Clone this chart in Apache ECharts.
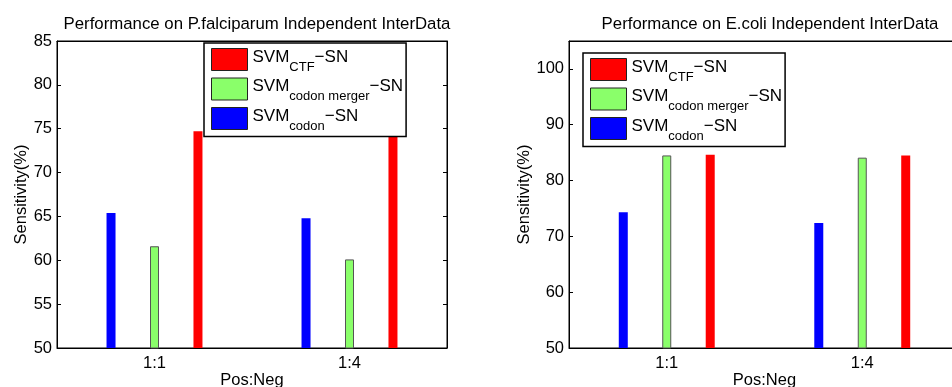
<!DOCTYPE html>
<html>
<head>
<meta charset="utf-8">
<script src="https://cdn.jsdelivr.net/npm/echarts@6/dist/echarts.min.js"></script>
<style>
html, body { margin: 0; padding: 0; background: #fff; }
#chart { width: 952px; height: 387px; }
</style>
</head>
<body>
<div id="chart"></div>
<script>
// data
var ratios = ['1:1', '1:4'];
var seriesNames = ['SVM_codon-SN', 'SVM_codon merger-SN', 'SVM_CTF-SN'];
var legendOrder = ['SVM_CTF-SN', 'SVM_codon merger-SN', 'SVM_codon-SN'];
var colors = ['#0000ff', '#8aff6a', '#ff0000'];

var pfCodon = [65.4, 64.8];
var pfMerger = [61.6, 60.1];
var pfCTF = [74.7, 76.0];

var ecCodon = [74.3, 72.4];
var ecMerger = [84.5, 84.1];
var ecCTF = [84.6, 84.5];

var FONT = '"Liberation Sans", Arial, sans-serif';

function legendText(name) {
  var sub = name.split('_')[1].replace('-SN', '');
  return '{m|SVM}{s|' + sub + '}{m|\u2212SN}';
}

function legendCfg(left, top) {
  return {
    data: legendOrder,
    orient: 'vertical',
    left: left,
    top: top,
    z: 10,
    icon: 'rect',
    itemWidth: 36,
    itemHeight: 22,
    itemGap: 4,
    itemStyle: { borderColor: '#222', borderWidth: 1 },
    padding: [5, 3, 4, 7],
    backgroundColor: '#fff',
    borderColor: '#000',
    borderWidth: 1.5,
    formatter: legendText,
    textStyle: {
      fontFamily: FONT,
      color: '#000',
      rich: {
        m: { fontSize: 17, lineHeight: 22, verticalAlign: 'top', fontFamily: FONT, color: '#000' },
        s: { fontSize: 13, lineHeight: 12, padding: [12, 0, 0, 0], verticalAlign: 'top', fontFamily: FONT, color: '#000' }
      }
    }
  };
}

function xAxes(grid) {
  var base = {
    type: 'category',
    gridIndex: grid,
    data: ratios,
    axisLine: { lineStyle: { color: '#000', width: 1 } },
    axisTick: { inside: true, length: 4, alignWithLabel: true, lineStyle: { color: '#000' } },
    splitLine: { show: false }
  };
  return [
    Object.assign({}, base, {
      position: 'bottom',
      name: 'Pos:Neg',
      nameLocation: 'middle',
      nameGap: 24,
      nameMoveOverlap: false,
      nameTextStyle: { fontFamily: FONT, fontSize: 16.5, color: '#000' },
      axisLabel: { fontFamily: FONT, fontSize: 16.5, color: '#000', margin: 7 }
    }),
    Object.assign({}, base, { position: 'top', axisLabel: { show: false } })
  ];
}

function yAxes(grid, min, max, step, hideMax, gap) {
  var base = {
    type: 'value',
    gridIndex: grid,
    min: min,
    max: max,
    interval: step,
    axisLine: { show: true, lineStyle: { color: '#000', width: 1 } },
    axisTick: { show: true, inside: true, length: 4, lineStyle: { color: '#000' } },
    splitLine: { show: false }
  };
  return [
    Object.assign({}, base, {
      position: 'left',
      name: 'Sensitivity(%)',
      nameLocation: 'middle',
      nameGap: gap,
      nameMoveOverlap: false,
      nameTextStyle: { fontFamily: FONT, fontSize: 16.5, color: '#000' },
      axisLabel: { fontFamily: FONT, fontSize: 16.5, color: '#000', margin: 5, showMaxLabel: !hideMax }
    }),
    Object.assign({}, base, { position: 'right', axisLabel: { show: false } })
  ];
}

function bars(grid, vals) {
  return vals.map(function (v, i) {
    return {
      name: seriesNames[i],
      type: 'bar',
      xAxisIndex: grid * 2,
      yAxisIndex: grid * 2,
      data: v,
      barWidth: 9,
      barGap: '383%',
      itemStyle: {
        color: colors[i],
        borderColor: i === 1 ? '#555' : colors[i],
        borderWidth: i === 1 ? 1 : 0
      },
      emphasis: { disabled: true },
      z: 2
    };
  });
}

var chart = echarts.init(document.getElementById('chart'), null, { renderer: 'canvas' });

var option = {
  animation: false,
  color: colors,
  title: [
    {
      text: 'Performance on P.falciparum Independent InterData',
      left: 252, top: 11, textAlign: 'center',
      textStyle: { fontFamily: FONT, fontSize: 16.8, fontWeight: 'normal', color: '#000' }
    },
    {
      text: 'Performance on E.coli Independent InterData',
      left: 765, top: 11, textAlign: 'center',
      textStyle: { fontFamily: FONT, fontSize: 16.8, fontWeight: 'normal', color: '#000' }
    }
  ],
  legend: [legendCfg(204, 43), legendCfg(583, 53)],
  grid: [
    { left: 57, top: 41, width: 390, height: 307, outerBoundsMode: 'none', show: true, borderColor: '#000', borderWidth: 1, backgroundColor: '#fff' },
    { left: 569, top: 41, width: 391, height: 307, outerBoundsMode: 'none', show: true, borderColor: '#000', borderWidth: 1, backgroundColor: '#fff' }
  ],
  xAxis: xAxes(0).concat(xAxes(1)),
  yAxis: yAxes(0, 50, 85, 5, false, 27).concat(yAxes(1, 50, 105, 10, true, 36)),
  series: bars(0, [pfCodon, pfMerger, pfCTF]).concat(bars(1, [ecCodon, ecMerger, ecCTF]))
};

chart.setOption(option);
</script>
</body>
</html>
